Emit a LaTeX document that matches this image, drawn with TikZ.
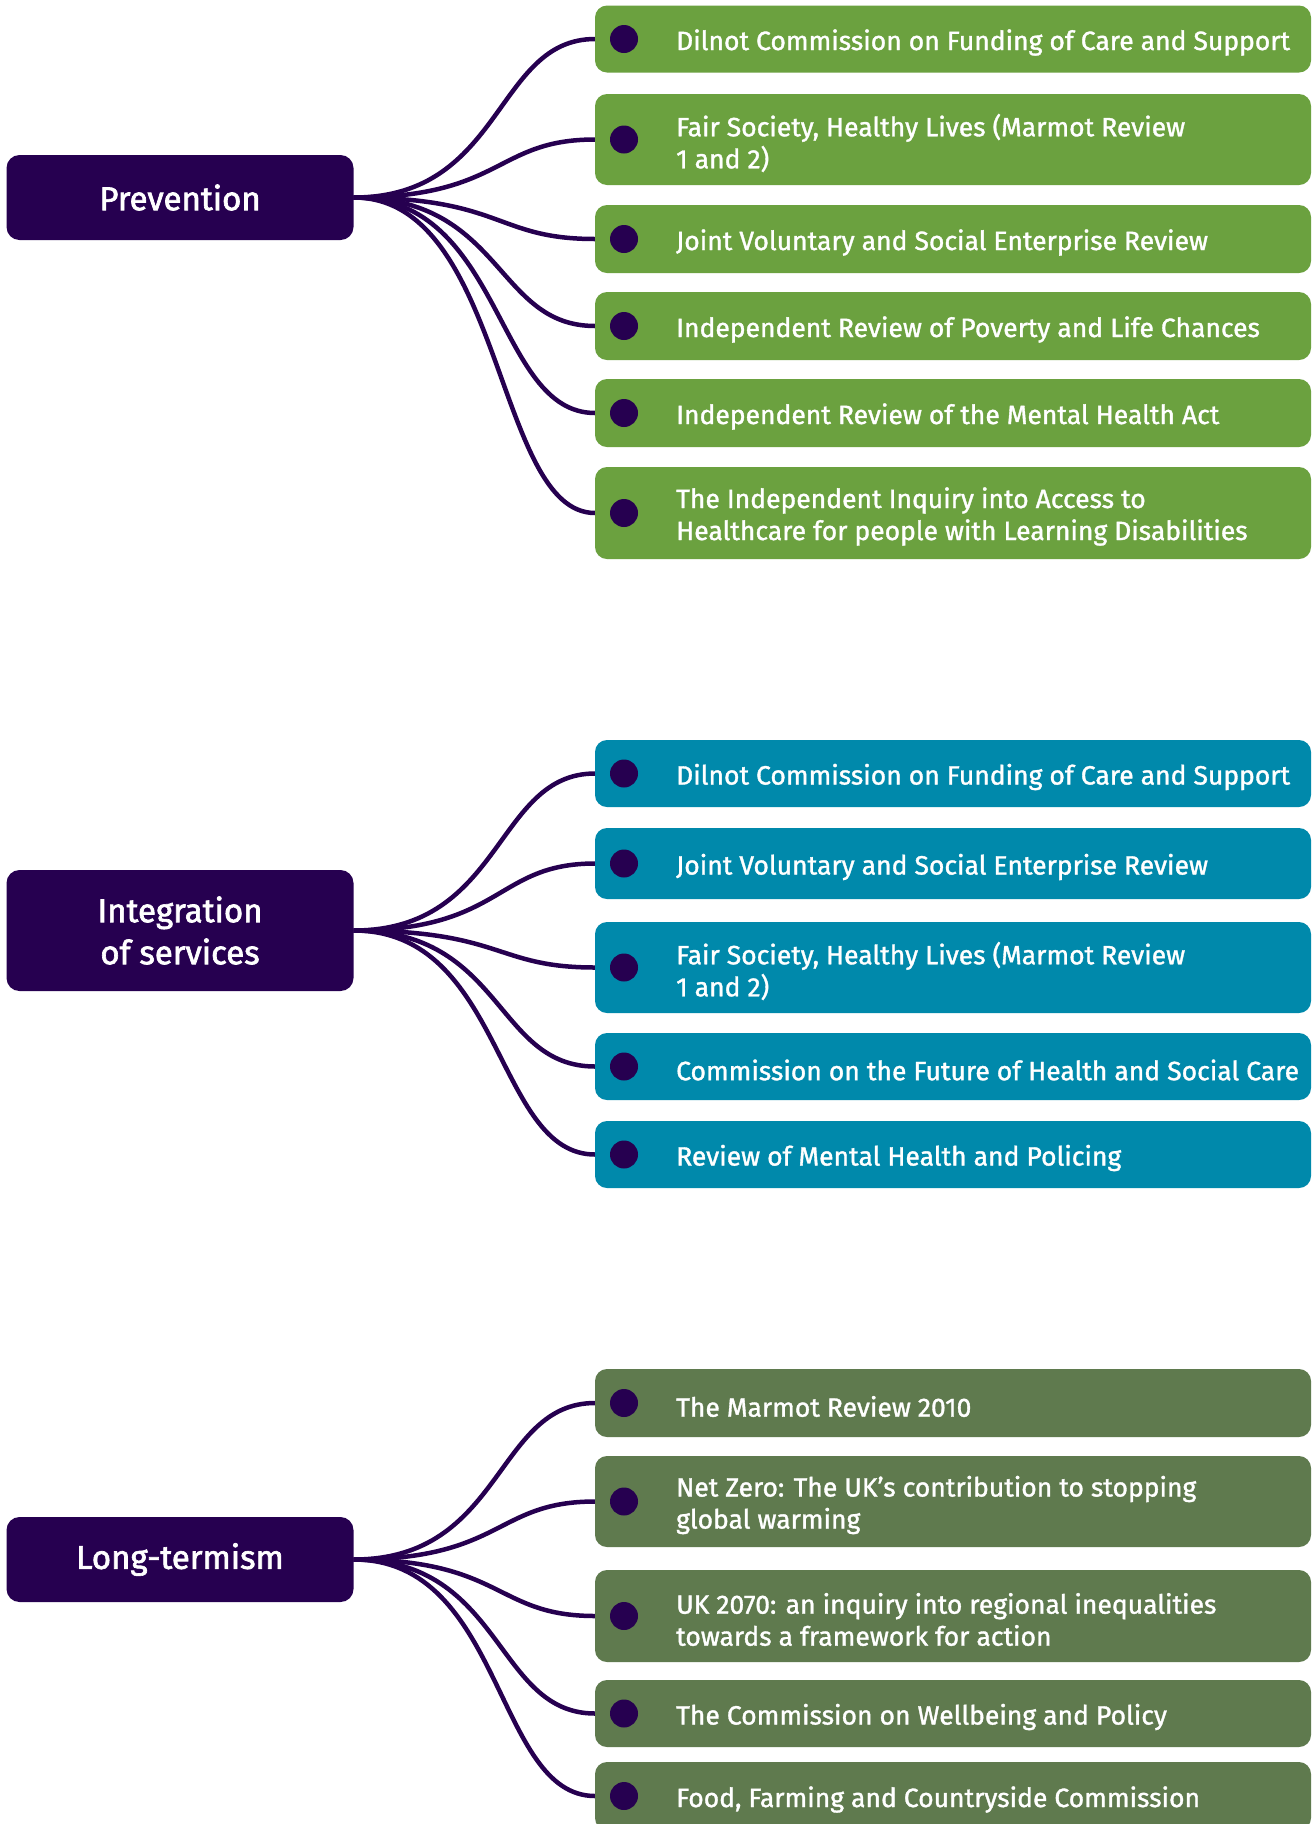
\documentclass[tikz,border=0pt]{standalone}
\usepackage{fontspec}
\setmainfont{Fira Sans}
\newfontfamily\itemfont{Fira Sans}[FakeBold=1.3]
\newfontfamily\headfont{Fira Sans}[FakeBold=2]
\definecolor{navy}{RGB}{38,0,80}
\definecolor{grn}{RGB}{107,161,63}
\definecolor{teal}{RGB}{0,137,171}
\definecolor{olive}{RGB}{95,122,78}
\tikzset{
  headbox/.style={rectangle, rounded corners=13pt, fill=navy, minimum width=347pt, text=white, align=center, font=\headfont\fontsize{33}{42}\selectfont, inner sep=0pt},
  itembox/.style={rectangle, rounded corners=12pt, minimum width=716pt, inner sep=0pt},
  dotmark/.style={circle, fill=navy, minimum size=28pt, inner sep=0pt},
  itemtext/.style={text=white, align=left, anchor=west, inner sep=0pt, yshift=-3.5pt, font=\itemfont\fontsize{26.5}{32}\selectfont},
  conn/.style={draw=navy, line width=4.5pt}
}
\newcommand\mkitem[5]{%
  \node[itembox, fill=#4, minimum height=#3pt] (#1) at (953,#2) {};
  \node[dotmark] (#1d) at (624,#2) {};
  \node[itemtext] (#1t) at (676,#2) {#5};
}
\begin{document}
\begin{tikzpicture}[x=1pt,y=-1pt]
\useasboundingbox[fill=white] (0,0) rectangle (1314,1824);
% head boxes
\node[headbox, minimum height=85pt] (P) at (180,197.5) {Prevention};
\node[headbox, minimum height=121pt] (I) at (180,930.5) {Integration\\of services};
\node[headbox, minimum height=85pt] (L) at (180,1559.5) {Long-termism};
% connector end points
\coordinate (p1) at (595,39);
\coordinate (p2) at (595,139.5);
\coordinate (p3) at (595,239);
\coordinate (p4) at (595,326);
\coordinate (p5) at (595,413);
\coordinate (p6) at (595,513);
\coordinate (i1) at (595,773.5);
\coordinate (i2) at (595,863.5);
\coordinate (i3) at (595,967.5);
\coordinate (i4) at (595,1066.5);
\coordinate (i5) at (595,1154.5);
\coordinate (l1) at (595,1403);
\coordinate (l2) at (595,1501.5);
\coordinate (l3) at (595,1616);
\coordinate (l4) at (595,1713.5);
\coordinate (l5) at (595,1796);
\foreach \t in {p1,p2,p3,p4,p5,p6}{\draw[conn] (P.east) .. controls +(150,0) and +(-100,0) .. (\t);}
\foreach \t in {i1,i2,i3,i4,i5}{\draw[conn] (I.east) .. controls +(150,0) and +(-100,0) .. (\t);}
\foreach \t in {l1,l2,l3,l4,l5}{\draw[conn] (L.east) .. controls +(150,0) and +(-100,0) .. (\t);}
% Prevention items
\mkitem{P1}{39}{67}{grn}{Dilnot Commission on Funding of Care and Support}
\mkitem{P2}{139.5}{91}{grn}{Fair Society, Healthy Lives (Marmot Review\\1 and 2)}
\mkitem{P3}{239}{68}{grn}{Joint Voluntary and Social Enterprise Review}
\mkitem{P4}{326}{68}{grn}{Independent Review of Poverty and Life Chances}
\mkitem{P5}{413}{68}{grn}{Independent Review of the Mental Health Act}
\mkitem{P6}{513}{92}{grn}{The Independent Inquiry into Access to\\Healthcare for people with Learning Disabilities}
% Integration items
\mkitem{I1}{773.5}{67}{teal}{Dilnot Commission on Funding of Care and Support}
\mkitem{I2}{863.5}{71}{teal}{Joint Voluntary and Social Enterprise Review}
\mkitem{I3}{967.5}{91}{teal}{Fair Society, Healthy Lives (Marmot Review\\1 and 2)}
\mkitem{I4}{1066.5}{67}{teal}{Commission on the Future of Health and Social Care}
\mkitem{I5}{1154.5}{67}{teal}{Review of Mental Health and Policing}
% Long-termism items
\mkitem{L1}{1403}{68}{olive}{The Marmot Review 2010}
\mkitem{L2}{1501.5}{91}{olive}{Net Zero: The UK’s contribution to stopping\\global warming}
\mkitem{L3}{1616}{92}{olive}{UK 2070: an inquiry into regional inequalities\\towards a framework for action}
\mkitem{L4}{1713.5}{67}{olive}{The Commission on Wellbeing and Policy}
\mkitem{L5}{1796}{68}{olive}{Food, Farming and Countryside Commission}
\end{tikzpicture}
\end{document}
